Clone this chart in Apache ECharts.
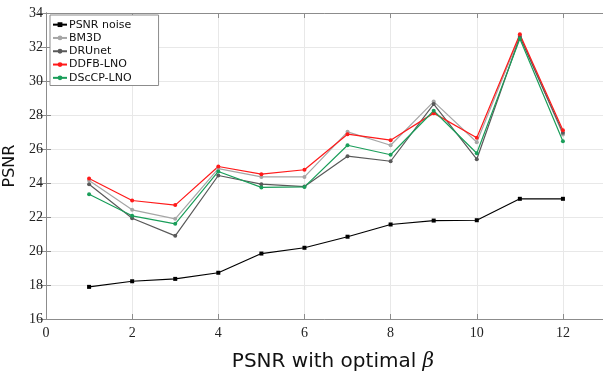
<!DOCTYPE html>
<html>
<head>
<meta charset="utf-8">
<script src="https://cdn.jsdelivr.net/npm/echarts@6/dist/echarts.min.js"></script>
<style>
  html, body { margin: 0; padding: 0; background: #fff; }
  #chart { width: 603px; height: 373px; }
</style>
</head>
<body>
<div id="chart"></div>
<script>
// values
const xValues = [1, 2, 3, 4, 5, 6, 7, 8, 9, 10, 11, 12]
const psnrNoise = [17.89, 18.22, 18.36, 18.72, 19.85, 20.19, 20.84, 21.56, 21.79, 21.81, 23.07, 23.07]
const bm3d = [24.15, 22.42, 21.89, 24.85, 24.36, 24.36, 27.01, 26.22, 28.79, 26.40, 32.68, 26.85]
const drunet = [23.93, 21.93, 20.89, 24.44, 23.93, 23.79, 25.58, 25.28, 28.64, 25.40, 32.60, 26.95]
const ddfb = [24.26, 22.97, 22.70, 24.97, 24.52, 24.78, 26.87, 26.52, 28.11, 26.66, 32.75, 27.10]
const dsccp = [23.34, 22.07, 21.60, 24.68, 23.74, 23.77, 26.22, 25.66, 28.25, 25.75, 32.48, 26.46]

const SERIES = [
  { name: 'PSNR noise', data: psnrNoise, color: '#000000', symbol: 'rect' },
  { name: 'BM3D', data: bm3d, color: '#a6a6a6', symbol: 'circle' },
  { name: 'DRUnet', data: drunet, color: '#595959', symbol: 'circle' },
  { name: 'DDFB-LNO', data: ddfb, color: '#ff1a1a', symbol: 'circle' },
  { name: 'DScCP-LNO', data: dsccp, color: '#1a9e5a', symbol: 'circle' },
]

const chart = echarts.init(document.getElementById('chart'))

const tickFont = { fontFamily: 'Liberation Serif', fontSize: 14, color: '#222' }
const axisGray = '#8c8c8c'

chart.setOption({
  animation: false,
  backgroundColor: '#fff',
  grid: { left: 46, right: -3, top: 13, bottom: 54, outerBoundsMode: 'none', containLabel: false },
  legend: {
    orient: 'vertical',
    left: 50,
    top: 15,
    padding: [3, 27, 1, 2],
    itemGap: 0,
    itemWidth: 14,
    itemHeight: 6,
    backgroundColor: '#fff',
    borderColor: axisGray,
    borderWidth: 1,
    borderRadius: 0,
    textStyle: { fontFamily: 'DejaVu Sans', fontSize: 11, color: '#111', lineHeight: 13.3, padding: [0, 0, 0, -3] },
    data: SERIES.map(s => s.name),
  },
  xAxis: [{
    type: 'value',
    min: 0,
    max: 13,
    interval: 2,
    axisLine: { show: true, onZero: false, lineStyle: { color: axisGray } },
    axisTick: { show: true, inside: true, length: 5, lineStyle: { color: axisGray } },
    axisLabel: { ...tickFont, margin: 7, showMaxLabel: false },
    splitLine: { show: true, lineStyle: { color: '#e8e8e8' } },
    name: '{a|PSNR with optimal }{b|β}',
    nameLocation: 'middle',
    nameGap: 33,
    nameTextStyle: {
      padding: [0, 0, 0, 14],
      rich: {
        a: { fontFamily: 'DejaVu Sans', fontSize: 20, color: '#111' },
        b: { fontFamily: 'DejaVu Serif', fontStyle: 'italic', fontSize: 20, color: '#111' },
      },
    },
  }, {
    type: 'value',
    position: 'top',
    min: 0,
    max: 13,
    interval: 2,
    axisLine: { show: true, lineStyle: { color: axisGray } },
    axisTick: { show: true, inside: true, length: 5, lineStyle: { color: axisGray } },
    axisLabel: { show: false },
    splitLine: { show: false },
  }],
  yAxis: [{
    type: 'value',
    min: 16,
    max: 34,
    interval: 2,
    axisLine: { show: true, lineStyle: { color: axisGray } },
    axisTick: { show: true, inside: true, length: 5, lineStyle: { color: axisGray } },
    axisLabel: { ...tickFont, margin: 3 },
    splitLine: { show: true, lineStyle: { color: '#e8e8e8' } },
    name: 'PSNR',
    nameLocation: 'middle',
    nameGap: 24,
    nameTextStyle: { fontFamily: 'DejaVu Sans', fontSize: 16, color: '#111' },
  }, {
    type: 'value',
    position: 'right',
    min: 16,
    max: 34,
    interval: 2,
    axisLine: { show: true, lineStyle: { color: axisGray } },
    axisTick: { show: true, inside: true, length: 8, lineStyle: { color: axisGray } },
    axisLabel: { show: false },
    splitLine: { show: false },
  }],
  series: SERIES.map(s => ({
    name: s.name,
    type: 'line',
    data: s.data.map((v, i) => [xValues[i], v]),
    symbol: s.symbol,
    symbolSize: 4,
    showSymbol: true,
    itemStyle: { color: s.color },
    lineStyle: { color: s.color, width: 1.2 },
  })),
})
</script>
</body>
</html>
